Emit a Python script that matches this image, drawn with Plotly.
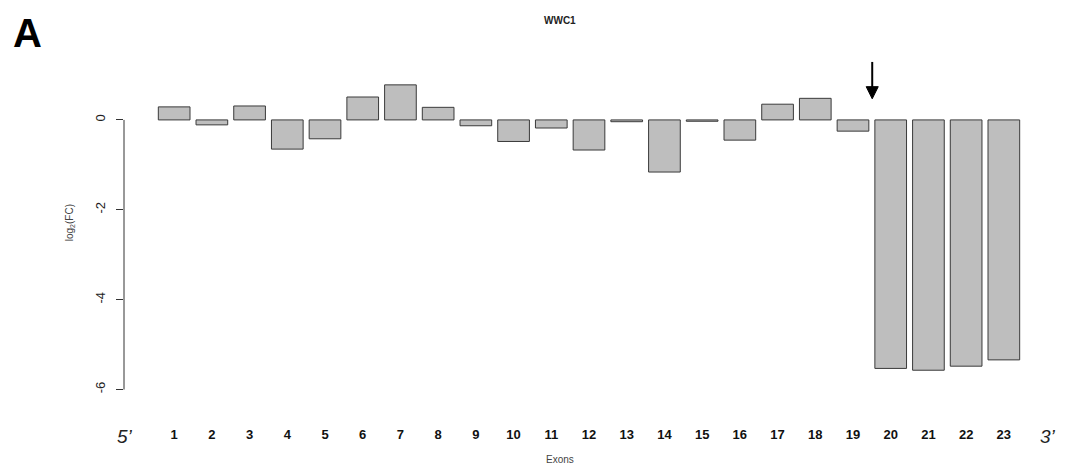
import plotly.graph_objects as go

exons = list(range(1, 24))
exon_labels = [str(i) for i in exons]
log2fc = [0.29, -0.11, 0.31, -0.65, -0.42, 0.51, 0.78, 0.28, -0.13, -0.48,
          -0.18, -0.67, -0.04, -1.16, -0.03, -0.45, 0.35, 0.48, -0.25,
          -5.53, -5.57, -5.48, -5.34]
y_ticks = [0, -2, -4, -6]
arrow_x = 19.51
arrow_top, arrow_tip = 1.29, 0.47

fig = go.Figure()
fig.add_trace(go.Bar(
    x=exons, y=log2fc, width=0.84,
    marker=dict(color="#bebebe", line=dict(color="#3a3a3a", width=1)),
    showlegend=False,
))

# page body has an 8px margin; figure sized to fit the window
fig.update_layout(
    width=1081, height=461,
    margin=dict(l=116, r=35, t=49, b=47.5, autoexpand=False),
    plot_bgcolor="white", paper_bgcolor="white",
    font=dict(family="Liberation Sans, Arial, sans-serif", color="#222"),
    xaxis=dict(range=[-0.33, 24.33], tickmode="array", tickvals=exons,
               ticktext=exon_labels, showline=False, showgrid=False,
               zeroline=False, ticks="", ticklabelstandoff=4,
               tickfont=dict(size=13, color="#111", weight="bold")),
    yaxis=dict(range=[-6.7, 1.4], tickmode="array", tickvals=y_ticks,
               ticktext=[str(v) for v in y_ticks], tickangle=-90,
               showline=False, showgrid=False, zeroline=False,
               ticks="outside", ticklen=7, tickcolor="#333",
               ticklabelstandoff=6,
               tickfont=dict(size=13, color="#222")),
)

# y axis line spanning the tick range, like base R
fig.add_shape(type="line", xref="paper", yref="y", x0=0, x1=0,
              y0=min(y_ticks), y1=max(y_ticks), line=dict(color="#333", width=1))

# arrow marking exon 20
fig.add_shape(type="line", xref="x", yref="y", x0=arrow_x, x1=arrow_x,
              y0=arrow_top, y1=arrow_tip + 0.2, line=dict(color="#000", width=2))
fig.add_shape(type="path", xref="x", yref="y",
              path=f"M {arrow_x-0.16},{arrow_tip+0.27} L {arrow_x+0.16},{arrow_tip+0.27} "
                   f"L {arrow_x},{arrow_tip} Z",
              fillcolor="#000", line=dict(color="#000", width=1))

# labels
fig.add_annotation(xref="paper", yref="paper", x=0.469, y=1.0, yshift=37,
                   xanchor="center", yanchor="middle",
                   text="<b>WWC1</b>", showarrow=False, font=dict(size=10, color="#222"))
fig.add_annotation(xref="paper", yref="paper", x=0.0, xshift=-97, y=1.0, yshift=24,
                   xanchor="center", yanchor="middle",
                   text="<b>A</b>", showarrow=False,
                   font=dict(size=40, color="#000", family="Liberation Sans, Arial"))
fig.add_annotation(xref="paper", yref="y", x=0.0, xshift=-54, y=-2.3,
                   xanchor="center", yanchor="middle",
                   text="log<sub>2</sub>(FC)", textangle=-90, showarrow=False,
                   font=dict(size=10, color="#444"))
fig.add_annotation(xref="paper", yref="paper", x=0.469, y=0, yshift=-38.5,
                   xanchor="center", yanchor="middle",
                   text="Exons", showarrow=False, font=dict(size=10, color="#444"))
fig.add_annotation(xref="x", yref="paper", x=-0.3, y=0, yshift=-15.5,
                   xanchor="center", yanchor="middle",
                   text="<i>5’</i>", showarrow=False, font=dict(size=19, color="#222"))
fig.add_annotation(xref="x", yref="paper", x=24.18, y=0, yshift=-15.5,
                   xanchor="center", yanchor="middle",
                   text="<i>3’</i>", showarrow=False, font=dict(size=19, color="#222"))

fig.write_html("out.html")
